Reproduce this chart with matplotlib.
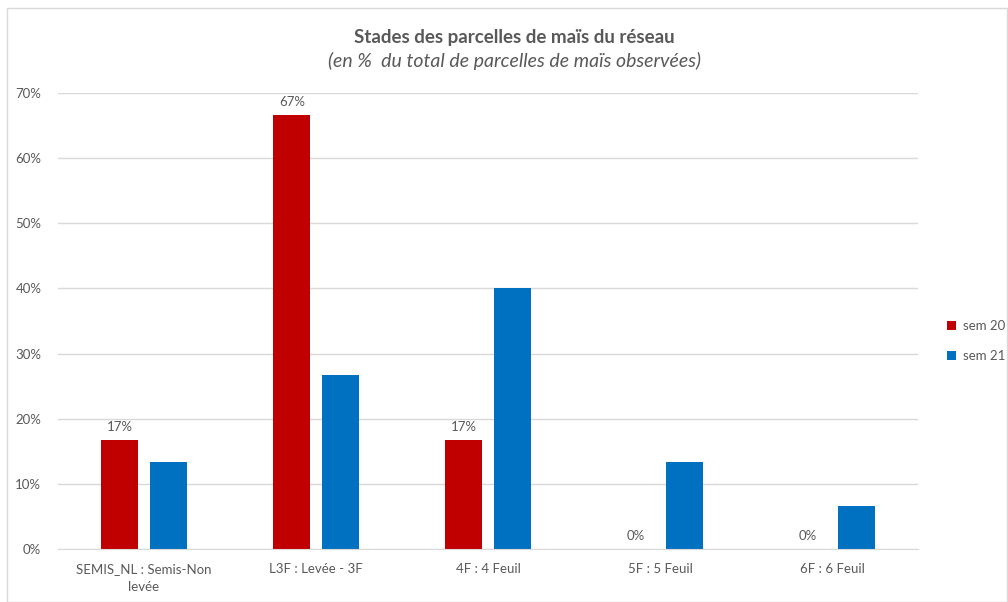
import matplotlib
matplotlib.use("Agg")
import matplotlib.pyplot as plt
from matplotlib.patches import Rectangle
import numpy as np

categories = ["SEMIS_NL : Semis-Non\nlevée", "L3F : Levée - 3F", "4F : 4 Feuil", "5F : 5 Feuil", "6F : 6 Feuil"]
sem20 = [16.67, 66.67, 16.67, 0.0, 0.0]
sem21 = [13.33, 26.67, 40.0, 13.33, 6.67]
series_names = ["sem 20", "sem 21"]
sem20_labels = ["17%", "67%", "17%", "0%", "0%"]
yticks = [0, 10, 20, 30, 40, 50, 60, 70]

plt.rcParams['font.family'] = ['Lato', 'DejaVu Sans']
grey = "#595959"
red = "#C00000"
blue = "#0070C0"

fig = plt.figure(figsize=(10.08, 6.02), dpi=100)
ax = fig.add_axes([58/1008, 1-549/602, 860/1008, (549-93)/602])

x = np.arange(len(categories))
w = 0.215
off = 0.14
b1 = ax.bar(x - off, sem20, w, color=red, label=series_names[0], zorder=3)
b2 = ax.bar(x + off, sem21, w, color=blue, label=series_names[1], zorder=3)

for xi, v, lab in zip(x, sem20, sem20_labels):
    ax.annotate(lab, (xi - off, v), xytext=(0, 5), textcoords="offset points",
                ha="center", va="bottom", fontsize=9.5, color=grey)

ax.set_xlim(-0.5, len(categories) - 0.5)
ax.set_ylim(0, 70)
ax.set_yticks(yticks)
ax.set_yticklabels([f"{t}%" for t in yticks])
ax.set_xticks(x)
ax.set_xticklabels(categories, fontsize=9.5, color=grey, linespacing=1.6)
ax.tick_params(axis='y', labelsize=9.5, labelcolor=grey, length=0, pad=12)
ax.tick_params(axis='x', length=0, pad=10)
ax.grid(axis='y', color="#D9D9D9", linewidth=1, zorder=0)
for s in ["top", "right", "left"]:
    ax.spines[s].set_visible(False)
ax.spines["bottom"].set_color("#D9D9D9")
ax.spines["bottom"].set_zorder(4)

fig.text(514/1008, 1-37/602, "Stades des parcelles de maïs du réseau", ha="center", va="center",
         fontsize=13.5, fontweight="bold", color=grey)
fig.text(514/1008, 1-61/602, "(en %  du total de parcelles de maïs observées)", ha="center", va="center",
         fontsize=14, style="italic", color=grey)

leg = fig.legend(handles=[b1, b2], labels=series_names, loc="center left",
                 bbox_to_anchor=(938/1008, 1-341/602), frameon=False, fontsize=9.5,
                 handlelength=0.7, handleheight=0.7, handletextpad=0.5, labelspacing=1.4,
                 labelcolor=grey, borderpad=0.2)

fig.patches.append(Rectangle((7/1008, 0), 1 - 7/1008 - 0.001, 1 - 8/602, transform=fig.transFigure,
                             fill=False, edgecolor="#D9D9D9", linewidth=1))

fig.savefig("out.png", dpi=100)
